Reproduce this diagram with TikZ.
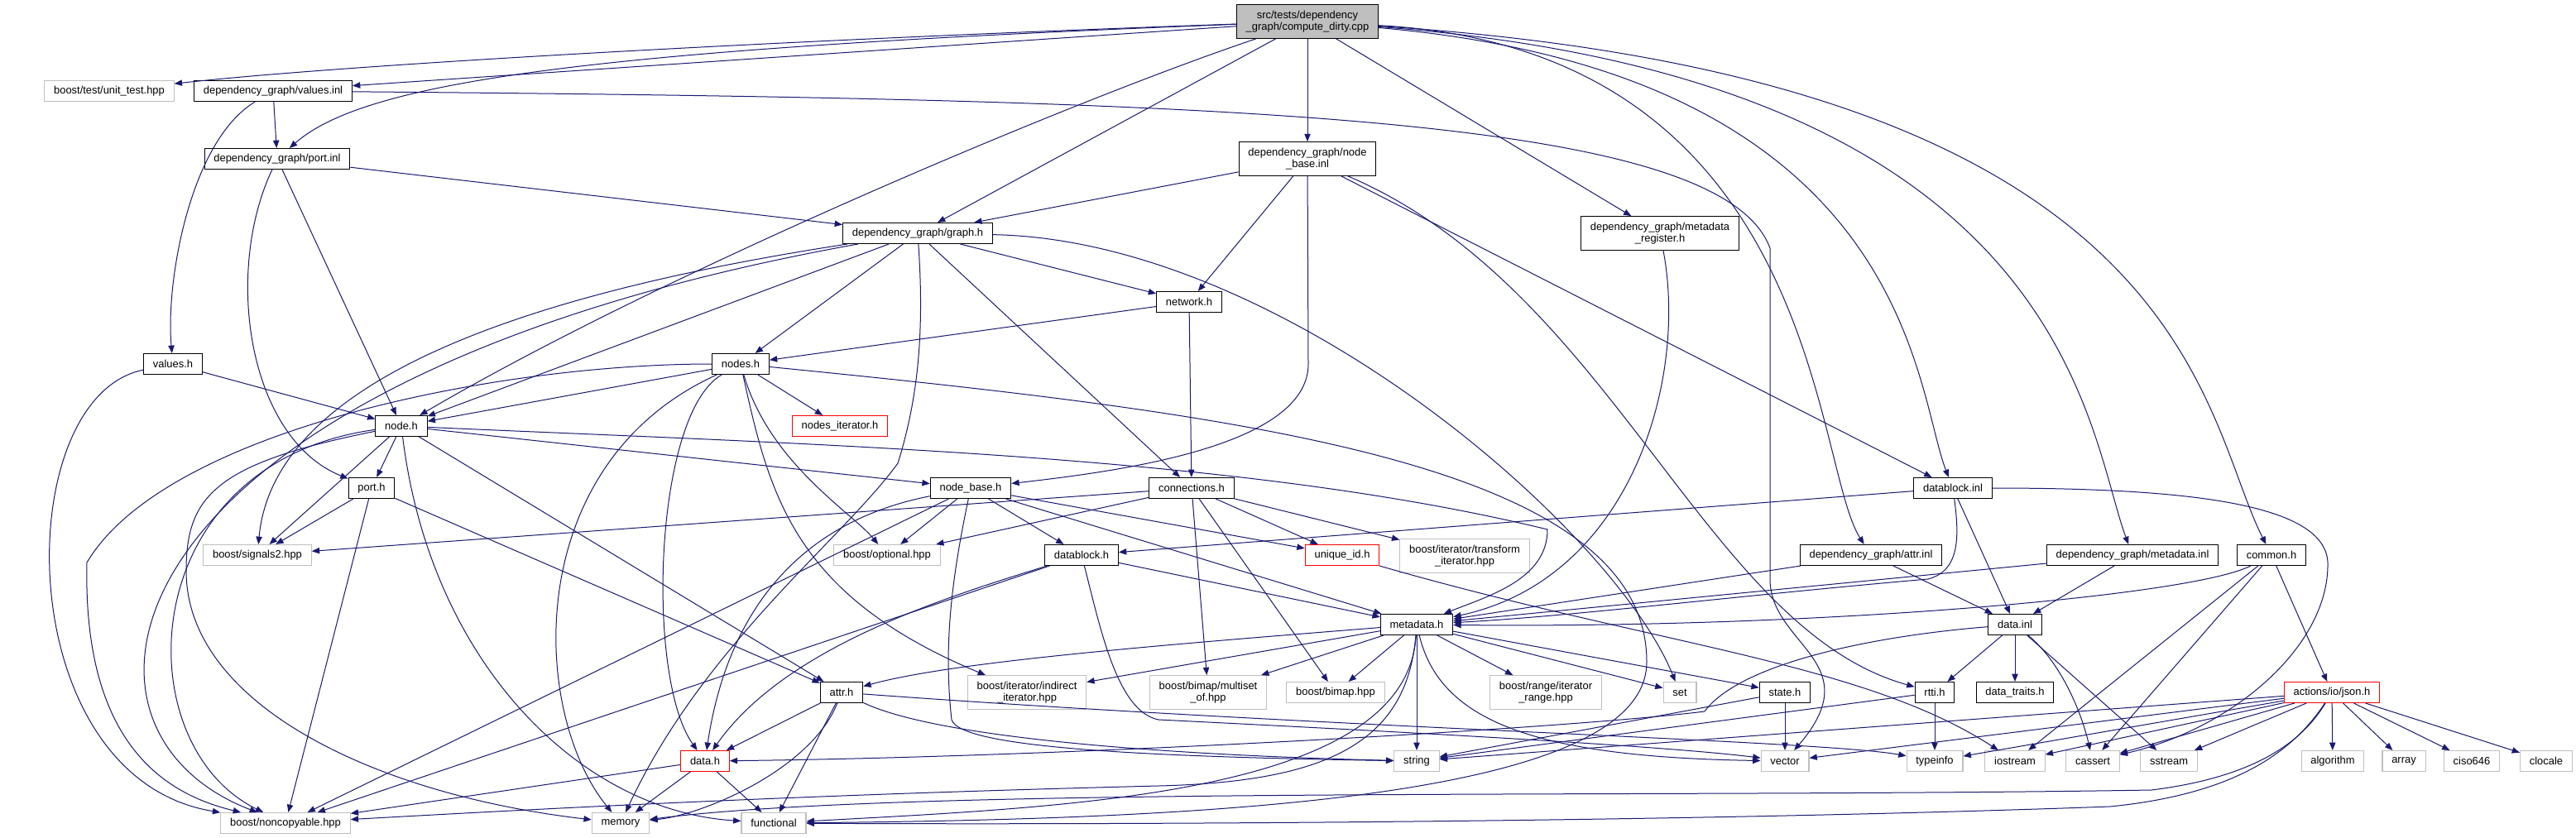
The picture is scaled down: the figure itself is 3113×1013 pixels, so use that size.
\documentclass[tikz,border=0pt]{standalone}
\usepackage{fontspec}
\setmainfont{Liberation Sans}
\usetikzlibrary{arrows.meta}
\definecolor{incblue}{HTML}{191970}
\definecolor{greyline}{HTML}{BFBFBF}
\newcommand{\dgfont}{\fontsize{9.7}{10.3}\selectfont}
\begin{document}
\begin{tikzpicture}[x=0.75pt, y=-0.75pt, >={Triangle[length=7pt,width=5.5pt]},
  file/.style={draw=black, line width=0.8pt, fill=white, font=\dgfont, align=center, inner xsep=8.5pt, inner ysep=0pt, minimum height=18.75pt},
  sysfile/.style={file, draw=greyline},
  badfile/.style={file, draw=red},
  main/.style={file, fill=greyline},
  tall/.style={minimum height=30.5pt},
  inc/.style={->, draw=incblue, line width=0.75pt}]
\fill[white] (0,0) rectangle (3113,1013);
\node[main, tall] (root) at (1580,26) {src/tests/dependency\\\_graph/compute\_dirty.cpp};
\node[sysfile] (unittest) at (132,110) {boost/test/unit\_test.hpp};
\node[file] (valuesinl) at (330,110) {dependency\_graph/values.inl};
\node[file] (portinl) at (335,192) {dependency\_graph/port.inl};
\node[file, tall] (nodebaseinl) at (1580,192) {dependency\_graph/node\\\_base.inl};
\node[file] (graph) at (1109,282) {dependency\_graph/graph.h};
\node[file, tall] (metareg) at (2006,282) {dependency\_graph/metadata\\\_register.h};
\node[file] (network) at (1437,365) {network.h};
\node[file] (valuesh) at (209,440) {values.h};
\node[file] (nodes) at (895,440) {nodes.h};
\node[file] (node) at (485,515) {node.h};
\node[badfile] (nodesit) at (1015,515) {nodes\_iterator.h};
\node[file] (port) at (449,590) {port.h};
\node[file] (nodebase) at (1173,590) {node\_base.h};
\node[file] (connections) at (1440,590) {connections.h};
\node[file] (datablockinl) at (2360,590) {datablock.inl};
\node[sysfile] (signals) at (311,671) {boost/signals2.hpp};
\node[sysfile] (optional) at (1072,671) {boost/optional.hpp};
\node[file] (datablock) at (1307,671) {datablock.h};
\node[badfile] (uniqueid) at (1622,671) {unique\_id.h};
\node[sysfile, tall] (transform) at (1770,672) {boost/iterator/transform\\\_iterator.hpp};
\node[file] (attrinl) at (2261,671) {dependency\_graph/attr.inl};
\node[file] (metadatainl) at (2577,671) {dependency\_graph/metadata.inl};
\node[file] (common) at (2745,671) {common.h};
\node[file] (metadata) at (1712,755) {metadata.h};
\node[file] (datainl) at (2435,755) {data.inl};
\node[file] (attr) at (1017,837) {attr.h};
\node[sysfile, tall] (indirect) at (1241,837) {boost/iterator/indirect\\\_iterator.hpp};
\node[sysfile, tall] (multiset) at (1460,837) {boost/bimap/multiset\\\_of.hpp};
\node[sysfile] (bimap) at (1614,837) {boost/bimap.hpp};
\node[sysfile, tall] (range) at (1868,837) {boost/range/iterator\\\_range.hpp};
\node[sysfile] (set) at (2030,837) {set};
\node[file] (state) at (2157,837) {state.h};
\node[file] (rtti) at (2338,837) {rtti.h};
\node[file] (traits) at (2435,837) {data\_traits.h};
\node[badfile] (json) at (2818,837) {actions/io/json.h};
\node[badfile] (data) at (852,920) {data.h};
\node[sysfile] (string) at (1712,920) {string};
\node[sysfile] (vector) at (2157,920) {vector};
\node[sysfile] (typeinfo) at (2338,920) {typeinfo};
\node[sysfile] (iostream) at (2435,920) {iostream};
\node[sysfile] (cassert) at (2529,920) {cassert};
\node[sysfile] (sstream) at (2621,920) {sstream};
\node[sysfile] (algorithm) at (2819,920) {algorithm};
\node[sysfile] (array) at (2905,920) {array};
\node[sysfile] (ciso) at (2987,920) {ciso646};
\node[sysfile] (clocale) at (3077,920) {clocale};
\node[sysfile] (noncopy) at (345,995) {boost/noncopyable.hpp};
\node[sysfile] (memory) at (750,995) {memory};
\node[sysfile] (functional) at (935,995) {functional};
\draw[inc] (root) .. controls (900,50) and (400,80) .. (unittest);
\draw[inc] (root) -- (valuesinl);
\draw[inc] (root) .. controls (700,60) and (440,100) .. (portinl);
\draw[inc] (root) .. controls (1300,120) and (800,330) .. (node);
\draw[inc] (root) -- (graph);
\draw[inc] (root) -- (nodebaseinl);
\draw[inc] (root) -- (metareg);
\draw[inc] (root) .. controls (2200,60) and (2190,560) .. (attrinl);
\draw[inc] (root) .. controls (2310,90) and (2313,470) .. (datablockinl);
\draw[inc] (root) .. controls (2500,95) and (2521,520) .. (metadatainl);
\draw[inc] (root) .. controls (2650,95) and (2658,500) .. (common);
\draw[inc] (valuesinl) -- (portinl);
\draw[inc] (valuesinl) .. controls (230,170) and (200,340) .. (valuesh);
\draw[inc] (valuesinl) .. controls (1500,120) and (2080,140) .. (2139,300) -- (2139,700) .. controls (2139,780) and (2260,800) .. (vector);
\draw[inc] (valuesh) -- (node);
\draw[inc] (valuesh) .. controls (10,480) and (10,940) .. (noncopy);
\draw[inc] (portinl) -- (graph);
\draw[inc] (portinl) -- (node);
\draw[inc] (portinl) .. controls (270,330) and (300,530) .. (port);
\draw[inc] (nodebaseinl) -- (graph);
\draw[inc] (nodebaseinl) -- (network);
\draw[inc] (nodebaseinl) -- (1581,440) .. controls (1581,540) and (1350,570) .. (nodebase);
\draw[inc] (nodebaseinl) -- (datablockinl);
\draw[inc] (nodebaseinl) .. controls (1950,350) and (2060,760) .. (rtti);
\draw[inc] (metareg) .. controls (2040,460) and (1970,700) .. (metadata);
\draw[inc] (graph) -- (node);
\draw[inc] (graph) -- (nodes);
\draw[inc] (graph) -- (network);
\draw[inc] (graph) -- (connections);
\draw[inc] (graph) .. controls (600,360) and (330,470) .. (signals);
\draw[inc] (graph) .. controls (120,460) and (45,880) .. (noncopy);
\draw[inc] (graph) .. controls (1117,400) and (1110,480) .. (1085,560) .. controls (1020,650) and (850,780) .. (memory);
\draw[inc] (graph) .. controls (1550,290) and (1950,640) .. (set);
\draw[inc] (network) -- (nodes);
\draw[inc] (network) -- (connections);
\draw[inc] (nodes) -- (node);
\draw[inc] (nodes) -- (nodesit);
\draw[inc] (nodes) .. controls (930,560) and (1030,620) .. (optional);
\draw[inc] (nodes) .. controls (930,600) and (960,720) .. (indirect);
\draw[inc] (nodes) .. controls (790,500) and (780,820) .. (data);
\draw[inc] (nodes) .. controls (630,560) and (640,860) .. (memory);
\draw[inc] (nodes) .. controls (600,440) and (200,520) .. (105,680) .. controls (100,900) and (200,960) .. (noncopy);
\draw[inc] (nodes) .. controls (1500,500) and (1990,560) .. (1990,800) .. controls (1990,960) and (1500,990) .. (functional);
\draw[inc] (node) -- (port);
\draw[inc] (node) -- (signals);
\draw[inc] (node) .. controls (160,560) and (150,900) .. (noncopy);
\draw[inc] (node) .. controls (260,560) and (225,600) .. (225,690) .. controls (225,850) and (450,960) .. (memory);
\draw[inc] (node) .. controls (520,800) and (700,980) .. (functional);
\draw[inc] (node) -- (attr);
\draw[inc] (node) -- (nodebase);
\draw[inc] (node) .. controls (1000,538) and (1500,550) .. (1870,640) .. controls (1870,700) and (1800,720) .. (metadata);
\draw[inc] (port) -- (signals);
\draw[inc] (port) -- (noncopy);
\draw[inc] (port) -- (attr);
\draw[inc] (nodebase) -- (optional);
\draw[inc] (nodebase) -- (datablock);
\draw[inc] (nodebase) -- (uniqueid);
\draw[inc] (nodebase) -- (metadata);
\draw[inc] (nodebase) .. controls (1150,700) and (1140,780) .. (1150,870) .. controls (1160,905) and (1400,915) .. (string);
\draw[inc] (nodebase) .. controls (920,640) and (870,800) .. (data);
\draw[inc] (nodebase) -- (noncopy);
\draw[inc] (connections) -- (signals);
\draw[inc] (connections) -- (optional);
\draw[inc] (connections) -- (uniqueid);
\draw[inc] (connections) -- (transform);
\draw[inc] (connections) -- (multiset);
\draw[inc] (connections) -- (bimap);
\draw[inc] (datablock) -- (metadata);
\draw[inc] (datablock) .. controls (1150,720) and (950,780) .. (data);
\draw[inc] (datablock) -- (noncopy);
\draw[inc] (datablock) .. controls (1330,760) and (1350,860) .. (1400,870) .. controls (1600,880) and (2000,900) .. (vector);
\draw[inc] (datablockinl) -- (datablock);
\draw[inc] (datablockinl) .. controls (2368,650) and (2368,690) .. (2330,700) .. controls (2100,720) and (1900,745) .. (metadata);
\draw[inc] (datablockinl) -- (datainl);
\draw[inc] (datablockinl) .. controls (2650,590) and (2810,610) .. (2813,680) .. controls (2815,780) and (2700,880) .. (cassert);
\draw[inc] (attrinl) -- (metadata);
\draw[inc] (attrinl) -- (datainl);
\draw[inc] (metadatainl) -- (metadata);
\draw[inc] (metadatainl) -- (datainl);
\draw[inc] (common) .. controls (2650,720) and (2200,760) .. (metadata);
\draw[inc] (common) -- (iostream);
\draw[inc] (common) -- (cassert);
\draw[inc] (common) -- (json);
\draw[inc] (metadata) .. controls (1400,780) and (1150,800) .. (attr);
\draw[inc] (metadata) -- (indirect);
\draw[inc] (metadata) -- (multiset);
\draw[inc] (metadata) -- (bimap);
\draw[inc] (metadata) -- (range);
\draw[inc] (metadata) -- (string);
\draw[inc] (metadata) -- (set);
\draw[inc] (metadata) -- (state);
\draw[inc] (metadata) .. controls (1740,870) and (1850,915) .. (vector);
\draw[inc] (metadata) .. controls (1700,960) and (1300,975) .. (functional);
\draw[inc] (metadata) .. controls (1700,900) and (1600,945) .. (1400,950) .. controls (1000,960) and (700,975) .. (noncopy);
\draw[inc] (state) -- (vector);
\draw[inc] (state) -- (string);
\draw[inc] (rtti) -- (typeinfo);
\draw[inc] (rtti) -- (string);
\draw[inc] (datainl) -- (rtti);
\draw[inc] (datainl) -- (traits);
\draw[inc] (datainl) .. controls (2490,800) and (2515,860) .. (cassert);
\draw[inc] (datainl) -- (sstream);
\draw[inc] (datainl) .. controls (2250,770) and (2100,805) .. (2060,860) .. controls (1900,880) and (1300,915) .. (data);
\draw[inc] (uniqueid) .. controls (2000,780) and (2250,800) .. (iostream);
\draw[inc] (attr) -- (data);
\draw[inc] (attr) .. controls (980,930) and (850,985) .. (memory);
\draw[inc] (attr) -- (functional);
\draw[inc] (attr) .. controls (1150,900) and (1500,915) .. (string);
\draw[inc] (attr) .. controls (1600,880) and (2200,895) .. (typeinfo);
\draw[inc] (data) -- (noncopy);
\draw[inc] (data) -- (memory);
\draw[inc] (data) -- (functional);
\draw[inc] (json) -- (string);
\draw[inc] (json) -- (vector);
\draw[inc] (json) -- (typeinfo);
\draw[inc] (json) -- (iostream);
\draw[inc] (json) -- (cassert);
\draw[inc] (json) -- (sstream);
\draw[inc] (json) -- (algorithm);
\draw[inc] (json) -- (array);
\draw[inc] (json) -- (ciso);
\draw[inc] (json) -- (clocale);
\draw[inc] (json) .. controls (2780,900) and (2720,940) .. (2600,955) .. controls (2000,965) and (1100,950) .. (memory);
\draw[inc] (json) .. controls (2770,910) and (2700,960) .. (2550,975) .. controls (2000,995) and (1300,997) .. (functional);
\end{tikzpicture}
\end{document}
